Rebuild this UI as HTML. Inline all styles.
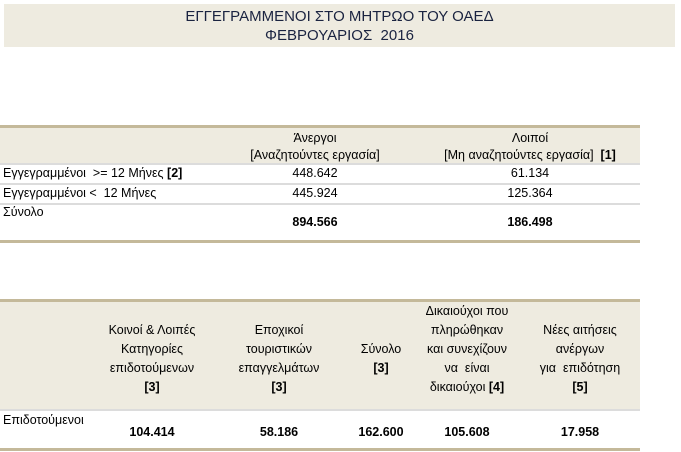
<!DOCTYPE html>
<html><head><meta charset="utf-8">
<style>
body{margin:0;width:681px;height:452px;background:#fff;position:relative;overflow:hidden;font-family:"Liberation Sans","DejaVu Sans",sans-serif;font-size:12.5px;color:#000}
div{position:absolute;box-sizing:border-box}
.t{white-space:nowrap}
.c{text-align:center}
.b{font-weight:bold}
.bg{background:#eeebe0}
.tan{background:#c4b99a;height:3px}
.gl{background:#dcdcdc;height:2px}
</style></head><body>
<div class="bg" style="left:4px;top:4px;width:671px;height:43px"></div>
<div class="t c" style="left:4px;top:8px;width:671px;font-size:15px;color:#1a2340">ΕΓΓΕΓΡΑΜΜΕΝΟΙ ΣΤΟ ΜΗΤΡΩΟ ΤΟΥ ΟΑΕΔ</div>
<div class="t c" style="left:4px;top:27px;width:671px;font-size:15px;color:#1a2340">ΦΕΒΡΟΥΑΡΙΟΣ&nbsp; 2016</div>

<div class="bg" style="left:0;top:126px;width:640px;height:37px"></div>
<div class="tan" style="left:0;top:125px;width:640px"></div>
<div class="t c" style="left:215px;top:130px;width:200px;line-height:17px">Άνεργοι<br>[Αναζητούντες εργασία]</div>
<div class="t c" style="left:420px;top:130px;width:220px;line-height:17px">Λοιποί<br>[Μη αναζητούντες εργασία]&nbsp; <b>[1]</b></div>
<div class="gl" style="left:0;top:163px;width:640px"></div>
<div class="t" style="left:3px;top:166px">Εγγεγραμμένοι &nbsp;&gt;= 12 Μήνες <b>[2]</b></div>
<div class="t c" style="left:215px;top:166px;width:200px">448.642</div>
<div class="t c" style="left:420px;top:166px;width:220px">61.134</div>
<div class="gl" style="left:0;top:183px;width:640px"></div>
<div class="t" style="left:3px;top:186px">Εγγεγραμμένοι &lt; &nbsp;12 Μήνες</div>
<div class="t c" style="left:215px;top:186px;width:200px">445.924</div>
<div class="t c" style="left:420px;top:186px;width:220px">125.364</div>
<div class="gl" style="left:0;top:203px;width:640px"></div>
<div class="t" style="left:3px;top:205px">Σύνολο</div>
<div class="t c b" style="left:215px;top:215px;width:200px">894.566</div>
<div class="t c b" style="left:420px;top:215px;width:220px">186.498</div>
<div class="tan" style="left:0;top:240px;width:640px"></div>

<div class="bg" style="left:0;top:300px;width:640px;height:109px"></div>
<div class="tan" style="left:0;top:299px;width:640px"></div>
<div class="t c" style="left:92px;top:321px;width:120px;line-height:19px">Κοινοί &amp; Λοιπές<br>Κατηγορίες<br>επιδοτούμενων<br><b>[3]</b></div>
<div class="t c" style="left:222px;top:321px;width:114px;line-height:19px">Εποχικοί<br>τουριστικών<br>επαγγελμάτων<br><b>[3]</b></div>
<div class="t c" style="left:346px;top:340px;width:70px;line-height:19px">Σύνολο<br><b>[3]</b></div>
<div class="t c" style="left:412px;top:302px;width:110px;line-height:19px">Δικαιούχοι που<br>πληρώθηκαν<br>και συνεχίζουν<br>να &nbsp;είναι<br>δικαιούχοι <b>[4]</b></div>
<div class="t c" style="left:525px;top:321px;width:110px;line-height:19px">Νέες αιτήσεις<br>ανέργων<br>για &nbsp;επιδότηση<br><b>[5]</b></div>
<div class="gl" style="left:0;top:409px;width:640px"></div>
<div class="t" style="left:3px;top:413px">Επιδοτούμενοι</div>
<div class="t c b" style="left:92px;top:425px;width:120px">104.414</div>
<div class="t c b" style="left:222px;top:425px;width:114px">58.186</div>
<div class="t c b" style="left:346px;top:425px;width:70px">162.600</div>
<div class="t c b" style="left:412px;top:425px;width:110px">105.608</div>
<div class="t c b" style="left:525px;top:425px;width:110px">17.958</div>
<div class="tan" style="left:0;top:448px;width:640px"></div>
</body></html>
